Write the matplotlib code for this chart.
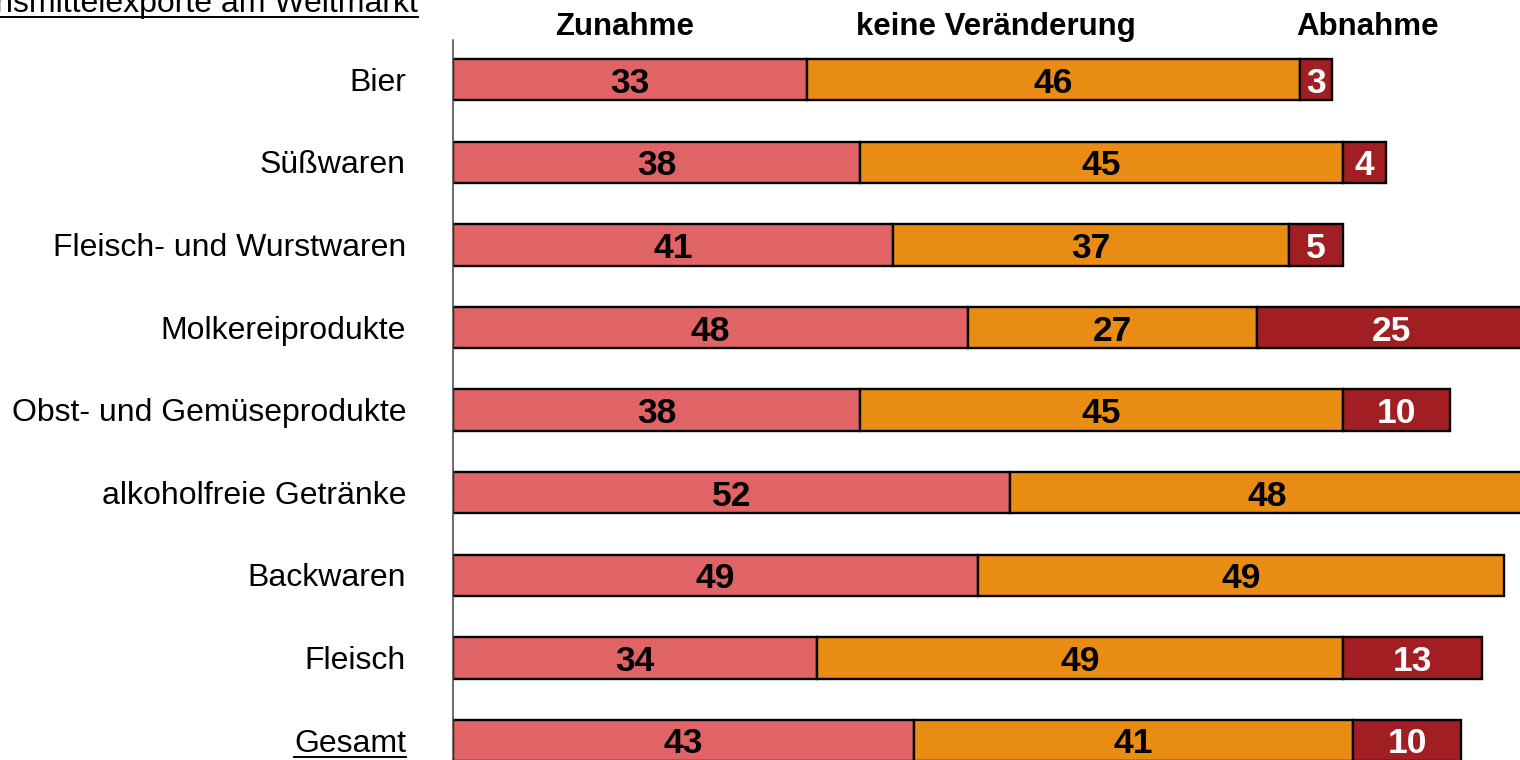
import matplotlib
matplotlib.use("Agg")
import matplotlib.pyplot as plt
from matplotlib.lines import Line2D
import numpy as np

plt.rcParams["font.family"] = ["Liberation Sans", "DejaVu Sans"]

# --- data -------------------------------------------------------------
title = "Lebensmittelexporte am Weltmarkt"
categories = [
    "Bier",
    "Süßwaren",
    "Fleisch- und Wurstwaren",
    "Molkereiprodukte",
    "Obst- und Gemüseprodukte",
    "alkoholfreie Getränke",
    "Backwaren",
    "Fleisch",
    "Gesamt",
]
series_names = ["Zunahme", "keine Veränderung", "Abnahme"]
zunahme = [33, 38, 41, 48, 38, 52, 49, 34, 43]
keine_veraenderung = [46, 45, 37, 27, 45, 48, 49, 49, 41]
abnahme = [3, 4, 5, 25, 10, 0, 0, 13, 10]

# --- layout -----------------------------------------------------------
W, H = 1520, 760
fig = plt.figure(figsize=(W / 100, H / 100), dpi=100)
ax = fig.add_axes([453 / W, 0, 1067 / W, 720 / H])

row_px = 82.6          # pixel distance between rows
unit_px = 10.72        # pixel width of one percentage point

colors = ["#E06366", "#E98C13", "#A11F22"]
text_colors = ["black", "black", "white"]

y = np.arange(len(categories))
left = np.zeros(len(categories))
for vals, col, tcol in zip([zunahme, keine_veraenderung, abnahme], colors, text_colors):
    vals = np.asarray(vals, dtype=float)
    m = vals > 0
    ax.barh(y[m], vals[m], left=left[m], height=0.5, color=col,
            edgecolor="black", linewidth=1.7, zorder=2)
    for yi, l, v in zip(y[m], left[m], vals[m]):
        ax.text(l + v / 2, yi + 13 / row_px, f"{v:.0f}", ha="center",
                va="baseline", fontsize=25.5, fontweight="bold",
                color=tcol, zorder=3)
    left += vals

ax.set_xlim(0, 1067 / unit_px)
ax.set_ylim((760 - 79.7) / row_px, (40 - 79.7) / row_px)
ax.set_xticks([])
ax.set_yticks([])
for s in ("top", "right", "bottom"):
    ax.spines[s].set_visible(False)
ax.spines["left"].set_color("#444444")
ax.spines["left"].set_linewidth(1.1)
ax.spines["left"].set_zorder(4)

# category labels
cat_texts = []
for yi, name in zip(y, categories):
    t = ax.text(-47 / 1067, yi + 11 / row_px, name,
                transform=ax.get_yaxis_transform(), ha="right",
                va="baseline", fontsize=23, clip_on=False)
    cat_texts.append(t)

# column headers
for name, xc in zip(series_names, [625, 996, 1368]):
    fig.text(xc / W, 1 - 35 / H, name, ha="center", va="baseline",
             fontsize=22.5, fontweight="bold")

title_text = fig.text(418 / W, 1 - 12 / H, title, ha="right",
                      va="baseline", fontsize=23)

# underlines for the title and the total row
fig.canvas.draw()
renderer = fig.canvas.get_renderer()
inv = fig.transFigure.inverted()


def underline(txt, gap_px=5):
    bb = txt.get_window_extent(renderer)
    bx, by = txt.get_transform().transform(txt.get_position())
    x0 = max(bb.x0, 0)
    (fx0, fy), (fx1, _) = inv.transform([(x0, by - gap_px), (bb.x1, by - gap_px)])
    fig.add_artist(Line2D([fx0, fx1], [fy, fy], transform=fig.transFigure,
                          color="black", linewidth=1.4))


underline(title_text)
underline(cat_texts[-1])

fig.savefig("out.png", dpi=100)
